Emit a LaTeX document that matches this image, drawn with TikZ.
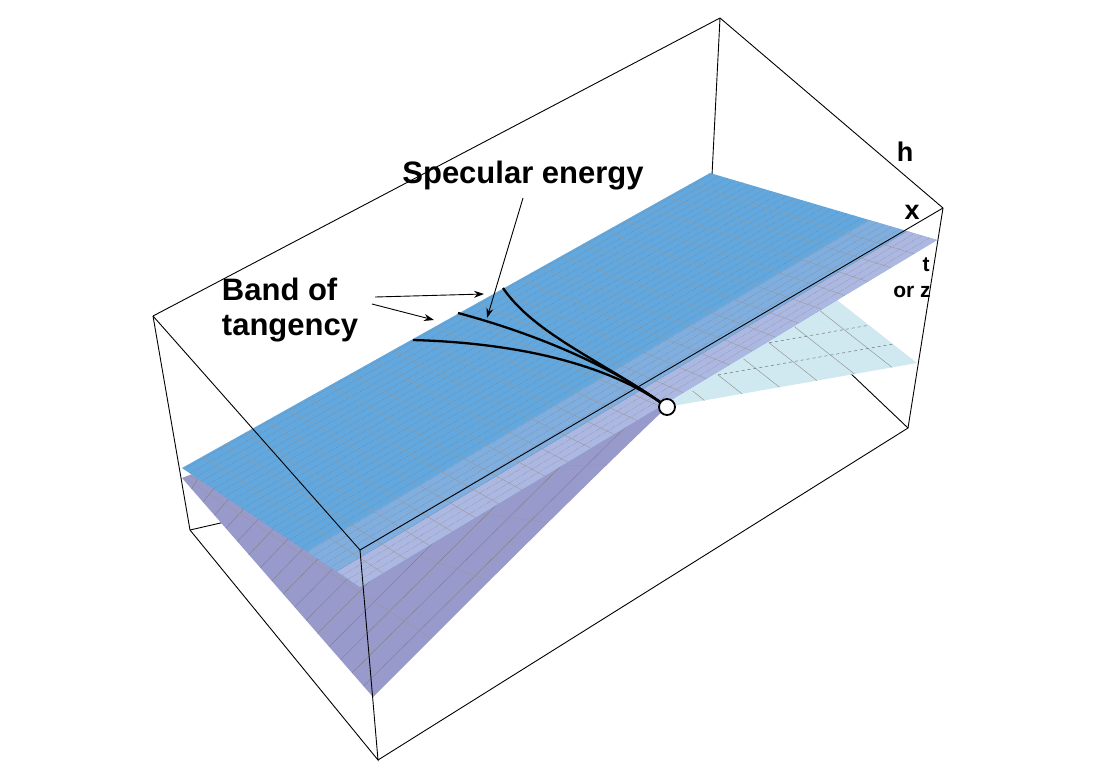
\documentclass[tikz,border=0pt]{standalone}
\usepackage{fontspec}
\setmainfont{Liberation Sans}
\usetikzlibrary{calc,arrows.meta}
\definecolor{topblue}{RGB}{98,168,222}
\definecolor{lav}{RGB}{172,184,225}
\definecolor{purp}{RGB}{152,154,204}
\definecolor{cyansheet}{RGB}{208,232,240}
\tikzset{
  edge/.style={black,line width=0.9pt},
  gridline/.style={black!55,line width=0.35pt,densely dotted},
  crossline/.style={black!45,line width=0.4pt},
  band/.style={black,line width=2.3pt},
  lab/.style={font=\bfseries\fontsize{31}{35}\selectfont,align=center},
  axlab/.style={font=\bfseries\fontsize{27}{29}\selectfont},
  smlab/.style={font=\bfseries\fontsize{21}{23}\selectfont},
  pointer/.style={black,line width=0.9pt,-{Stealth[length=10pt,width=7pt]}}
}
\begin{document}
\begin{tikzpicture}[x=1pt,y=-1pt]
\useasboundingbox (0,0) rectangle (1100,780);
\coordinate (A) at (153,316);
\coordinate (B) at (720,18);
\coordinate (C) at (943,208);
\coordinate (D) at (360,550);
\coordinate (E) at (190,530);
\coordinate (F) at (378,760);
\coordinate (H) at (908,428);
\coordinate (Q1) at (182,468);
\coordinate (Q2) at (710,173);
\coordinate (Q3) at (937,240);
\coordinate (Q4) at (360,587);
\coordinate (O) at (667,407);
\draw[edge] (E) -- ($(E)!0.12!(757,400)$);
\draw[edge] (B) -- (712,175);
\draw[edge] (847,370) -- (H);
% lower purple surface
\coordinate (L1) at (182,478);
\coordinate (L2) at (373,697);
\fill[purp] (L1) -- (L2) .. controls (480,590) and (590,480) .. (O) -- (560,330) -- cycle;
\begin{scope}
\clip (L1) -- (L2) .. controls (480,590) and (590,480) .. (O) -- (560,330) -- cycle;
\foreach \t in {0.05,0.11,...,1.0}{
  \draw[crossline,black!50] ($(L1)!\t!(L2)$) -- ($(Q1)!\t!(O)$);
}
\foreach \t in {0.2,0.4,0.6,0.8}{
  \draw[crossline,black!40] ($(L1)!\t!(Q1)$) -- ($(L2)!\t!(O)$);
}
\end{scope}
% cyan sheet
\coordinate (S1) at (917,363);
\coordinate (S2) at (837,300);
\fill[cyansheet] (O) -- (S1) -- (S2) -- (700,330) -- cycle;
\foreach \t in {0.15,0.3,...,0.95}{
  \draw[crossline,black!45] ($(O)!\t!(S1)$) -- ($(O)!\t!(S2)$);
}
\foreach \t in {0.3,0.6}{
  \draw[black!55,dashed,line width=0.5pt] ($(O)!\t!(S2)$) -- ($(S1)!\t!(S2)$);
}
% top blue surface
\fill[topblue] (Q1) -- (Q2) -- (Q3) -- (Q4) -- cycle;
\fill[lav] (Q4) -- (Q3) -- ($(Q3)!0.13!(Q2)$) -- ($(Q4)!0.13!(Q1)$) -- cycle;
\fill[lav!60!topblue,opacity=0.7] ($(Q4)!0.13!(Q1)$) -- ($(Q3)!0.13!(Q2)$) -- ($(Q3)!0.3!(Q2)$) -- ($(Q4)!0.3!(Q1)$) -- cycle;
\foreach \v in {0.033,0.066,...,0.99}{
  \draw[gridline] ($(Q4)!\v!(Q1)$) -- ($(Q3)!\v!(Q2)$);
}
\foreach \u in {0.04,0.08,...,0.99}{
  \draw[crossline,black!40] ($(Q4)!\u!(Q3)$) -- ($(Q1)!\u!(Q2)$);
}
% box edges over surfaces
\draw[edge] (A) -- (B) -- (C);
\draw[edge] (A) -- (D) -- (C);
\draw[edge] (A) -- (E) -- (F) -- (D);
\draw[edge] (F) -- (H) -- (C);
% band of tangency curves
\coordinate (c1) at (413,340);
\coordinate (c2) at (458,313);
\coordinate (c3) at (503,288);
\draw[band] (c1) .. controls (520,343) and (610,365) .. (O);
\draw[band] (c2) .. controls (540,335) and (615,368) .. (O);
\draw[band] (c3) .. controls (535,335) and (605,362) .. (O);
\node[circle,draw=black,line width=1.8pt,fill=white,minimum size=16pt,inner sep=0pt] (pt) at (O) {};
% labels
\node[lab] (spec) at (523,176) {Specular energy};
\node[lab,align=left] (band) at (290,310) {Band of\\tangency};
\coordinate (sp) at (487,318);
\coordinate (b1) at (484,294);
\coordinate (b2) at (434,320);
\draw[pointer] (spec.south) ++(0,4) -- (sp);
\draw[pointer] (375,297) -- (b1);
\draw[pointer] (372,304) -- (b2);
\node[axlab] (h) at (905,152) {h};
\node[axlab] (x) at (912,212) {x};
\node[smlab] (t) at (926,265) {t};
\node[smlab] (z) at (912,292) {or z};
\end{tikzpicture}
\end{document}
